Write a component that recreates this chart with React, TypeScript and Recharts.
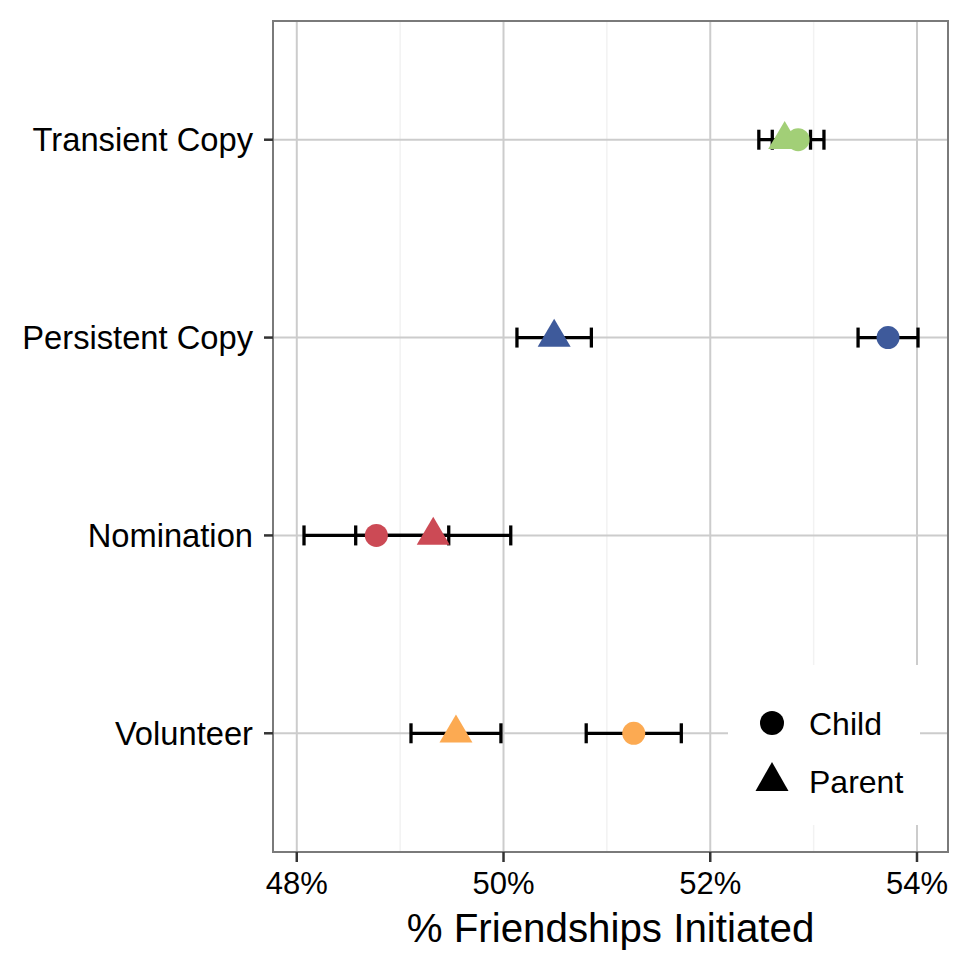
import React from 'react';
import {
  ScatterChart,
  Scatter,
  XAxis,
  YAxis,
  CartesianGrid,
  ErrorBar,
  ReferenceArea,
  Legend,
} from 'recharts';

const categories = ['Volunteer', 'Nomination', 'Persistent Copy', 'Transient Copy'];
const categoryColors = ['#fcaa52', '#cc4a55', '#3e5a9b', '#a2cf77'];

const childMean = [51.26, 48.77, 53.72, 52.85];
const childErr = [0.46, 0.7, 0.29, 0.25];
const parentMean = [49.54, 49.32, 50.49, 52.72];
const parentErr = [0.435, 0.75, 0.36, 0.25];

const xTicks = [48, 50, 52, 54];
const xMinorTicks = [49, 51, 53];
const xDomain: [number, number] = [47.77, 54.3];
const yDomain: [number, number] = [0.4, 4.6];

const FONT = '"Liberation Sans", Arial, Helvetica, sans-serif';

const childRows = categories.map((cat, i) => ({
  cat,
  pos: i + 1,
  x: childMean[i],
  err: childErr[i],
  color: categoryColors[i],
}));

const parentRows = categories.map((cat, i) => ({
  cat,
  pos: i + 1,
  x: parentMean[i],
  err: parentErr[i],
  color: categoryColors[i],
}));

const Dot = (props: any) => {
  const { cx, cy, payload } = props;
  return <circle cx={cx} cy={cy} r={11.5} fill={payload.color} />;
};

const Tri = (props: any) => {
  const { cx, cy, payload } = props;
  const pts = `${cx},${cy - 18.7} ${cx - 16.5},${cy + 9.3} ${cx + 16.5},${cy + 9.3}`;
  return <polygon points={pts} fill={payload.color} />;
};

const Nothing = () => <g />;

const LegendBox = () => (
  <svg width={192} height={160} style={{ display: 'block' }}>
    <circle cx={44} cy={58} r={12} fill="#000" />
    <text x={81} y={70} fontSize={32} fontFamily={FONT} fill="#000">
      Child
    </text>
    <polygon points="44,97 27.5,126 60.5,126" fill="#000" />
    <text x={81} y={128} fontSize={32} fontFamily={FONT} fill="#000">
      Parent
    </text>
  </svg>
);

export default function App() {
  return (
    <div style={{ position: 'absolute', left: 0, top: 0, background: '#fff', fontFamily: FONT }}>
      <ScatterChart width={969} height={969} margin={{ top: 21, right: 21, bottom: 0, left: 1 }}>
        <CartesianGrid horizontal={false} verticalValues={xMinorTicks} stroke="#f2f2f2" strokeWidth={1.5} />
        <CartesianGrid stroke="#cccccc" strokeWidth={2} />
        <XAxis
          type="number"
          dataKey="x"
          domain={xDomain}
          ticks={xTicks}
          allowDataOverflow
          tickFormatter={(v) => `${v}%`}
          tick={{ fontSize: 31, fill: '#000', fontFamily: FONT }}
          tickSize={10}
          tickMargin={10}
          tickLine={{ stroke: '#333', strokeWidth: 2.5 }}
          axisLine={false}
          height={117}
          label={{
            value: '% Friendships Initiated',
            position: 'insideBottom',
            offset: 27,
            fontSize: 40.3,
            fill: '#000',
            fontFamily: FONT,
          }}
        />
        <YAxis
          type="number"
          dataKey="pos"
          domain={yDomain}
          ticks={[1, 2, 3, 4]}
          allowDataOverflow
          tickFormatter={(v) => categories[v - 1]}
          tick={{ fontSize: 32.7, fill: '#000', fontFamily: FONT }}
          tickSize={9}
          tickMargin={11}
          tickLine={{ stroke: '#333', strokeWidth: 2.5 }}
          axisLine={false}
          width={272}
        />
        <Scatter data={childRows} shape={Nothing} isAnimationActive={false}>
          <ErrorBar dataKey="err" direction="x" stroke="#000" strokeWidth={3.3} width={10} />
        </Scatter>
        <Scatter data={parentRows} shape={Nothing} isAnimationActive={false}>
          <ErrorBar dataKey="err" direction="x" stroke="#000" strokeWidth={3.3} width={10} />
        </Scatter>
        <Scatter data={parentRows} shape={Tri} isAnimationActive={false} />
        <Scatter data={childRows} shape={Dot} isAnimationActive={false} />
        <ReferenceArea
          x1={xDomain[0]}
          x2={xDomain[1]}
          y1={yDomain[0]}
          y2={yDomain[1]}
          fill="none"
          stroke="#7a7a7a"
          strokeWidth={2}
          ifOverflow="visible"
        />
        <Legend
          layout="vertical"
          align="center"
          verticalAlign="middle"
          content={() => <LegendBox />}
          wrapperStyle={{ left: 728, top: 665, width: 192, height: 160, background: '#fff' }}
        />
      </ScatterChart>
    </div>
  );
}
